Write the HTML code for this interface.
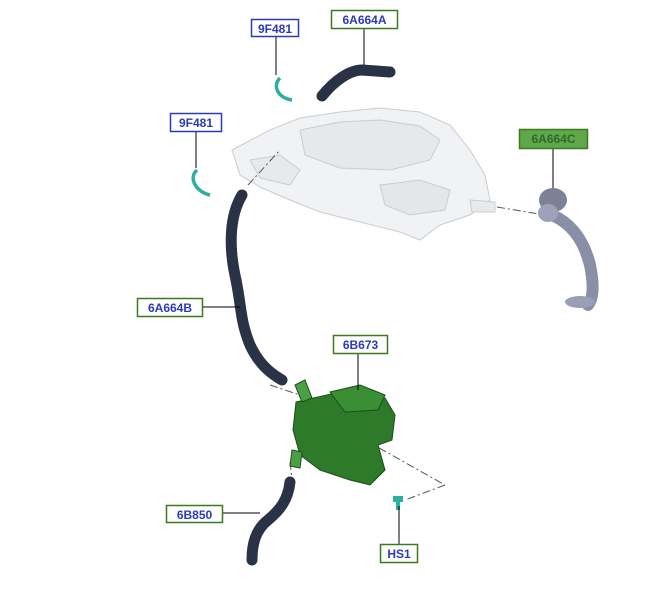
<!DOCTYPE html>
<html><head><meta charset="utf-8"><style>
html,body{margin:0;padding:0;background:#fff;width:660px;height:599px;overflow:hidden}
svg{display:block}
text{font-family:"Liberation Sans",Arial,sans-serif;font-size:12px;font-weight:bold}
</style></head><body>
<svg width="660" height="599" viewBox="0 0 660 599">
<g fill="#f1f2f4" stroke="#c9ccd2" stroke-width="1">
<path d="M232,150 L270,130 L300,118 L340,112 L380,108 L420,112 L450,125 L470,150 L485,175 L490,200 L470,215 L440,225 L420,240 L400,232 L360,222 L320,212 L290,200 L262,188 L240,175 Z"/>
<path d="M300,130 L340,122 L380,120 L420,126 L440,140 L430,160 L390,170 L340,168 L305,155 Z" fill="#e6e8ec"/>
<path d="M250,160 L280,155 L300,170 L290,185 L260,178 Z" fill="#e8e9ed"/>
<path d="M380,185 L420,180 L450,190 L445,210 L410,215 L385,205 Z" fill="#e4e6ea"/>
<path d="M470,200 L495,202 L495,212 L472,212 Z" fill="#e8e9ed"/>
</g>
<g stroke="#555" stroke-width="1" fill="none" stroke-dasharray="8,3,2,3">
<line x1="497" y1="207" x2="545" y2="215"/>
<line x1="248" y1="185" x2="280" y2="150"/>
<line x1="270" y1="385" x2="300" y2="395"/>
<line x1="365" y1="440" x2="445" y2="485"/>
<line x1="445" y1="485" x2="405" y2="500"/>
<line x1="290" y1="462" x2="292" y2="478"/>
</g>
<path d="M322,96 C335,80 350,70 362,70 L390,72" stroke="#2a3345" stroke-width="11" fill="none" stroke-linecap="round"/>
<path d="M242,195 C230,215 228,245 236,280 C242,310 240,320 250,345 C258,362 268,372 282,380" stroke="#2a3345" stroke-width="11" fill="none" stroke-linecap="round"/>
<path d="M290,482 C288,500 280,510 268,520 C255,530 252,545 252,560" stroke="#2a3345" stroke-width="11" fill="none" stroke-linecap="round"/>
<g stroke="#2eae9c" stroke-width="3.5" fill="none">
<path d="M280,78 C272,86 278,98 292,100"/>
<path d="M197,170 C188,178 196,192 210,195"/>
</g>
<path d="M552,215 C575,225 585,245 590,265 C595,290 592,300 588,305" stroke="#8a8fa8" stroke-width="12" fill="none" stroke-linecap="round"/>
<ellipse cx="553" cy="200" rx="14" ry="12" fill="#7d8198"/>
<ellipse cx="548" cy="213" rx="10" ry="9" fill="#9ea2b8"/>
<ellipse cx="580" cy="302" rx="15" ry="6" fill="#9a9fb5"/>
<g fill="#2d7a2a" stroke="#1c4f1a" stroke-width="1">
<path d="M296,402 L340,392 L385,398 L395,415 L392,440 L378,445 L385,470 L370,485 L350,480 L320,470 L300,455 L293,430 Z"/>
<path d="M330,392 L360,385 L385,395 L378,410 L345,412 Z" fill="#3a8f35"/>
<path d="M295,385 L305,380 L312,398 L302,402 Z" fill="#4aa044"/>
<path d="M292,450 L302,452 L300,468 L290,466 Z" fill="#4aa044"/>
</g>
<rect x="393" y="496" width="10" height="6" fill="#2eae9c"/>
<rect x="396" y="502" width="4" height="8" fill="#2eae9c"/>
<g stroke="#000" stroke-width="1">
<line x1="276" y1="37" x2="276" y2="75"/>
<line x1="364" y1="28" x2="364" y2="65"/>
<line x1="196" y1="131" x2="196" y2="168"/>
<line x1="553" y1="148" x2="553" y2="188"/>
<line x1="202" y1="307" x2="240" y2="307"/>
<line x1="358" y1="353" x2="358" y2="390"/>
<line x1="222" y1="513" x2="260" y2="513"/>
<line x1="399" y1="506" x2="399" y2="544"/>
</g>
<g stroke-width="1.5">
<rect x="251.5" y="19.5" width="47" height="17" fill="#fff" stroke="#2b3ab8"/>
<text x="275" y="33" text-anchor="middle" fill="#2b3ab8">9F481</text>
<rect x="331.5" y="10.5" width="66" height="18" fill="#fff" stroke="#3d7a1e"/>
<text x="364.5" y="24" text-anchor="middle" fill="#2b3ab8">6A664A</text>
<rect x="170.5" y="113.5" width="51" height="18" fill="#fff" stroke="#2b3ab8"/>
<text x="196" y="127" text-anchor="middle" fill="#2b3ab8">9F481</text>
<rect x="519.5" y="129.5" width="68" height="19" fill="#5fa84a" stroke="#3d7a1e"/>
<text x="553.5" y="143" text-anchor="middle" fill="#2d6a2a">6A664C</text>
<rect x="137.5" y="298.5" width="65" height="18" fill="#fff" stroke="#3d7a1e"/>
<text x="170" y="312" text-anchor="middle" fill="#2b3ab8">6A664B</text>
<rect x="333.5" y="335.5" width="54" height="18" fill="#fff" stroke="#3d7a1e"/>
<text x="360.5" y="349" text-anchor="middle" fill="#2b3ab8">6B673</text>
<rect x="166.5" y="505.5" width="56" height="17" fill="#fff" stroke="#3d7a1e"/>
<text x="194.5" y="519" text-anchor="middle" fill="#2b3ab8">6B850</text>
<rect x="380.5" y="544.5" width="37" height="18" fill="#fff" stroke="#3d7a1e"/>
<text x="399" y="558" text-anchor="middle" fill="#2b3ab8">HS1</text>
</g>
</svg>
</body></html>
